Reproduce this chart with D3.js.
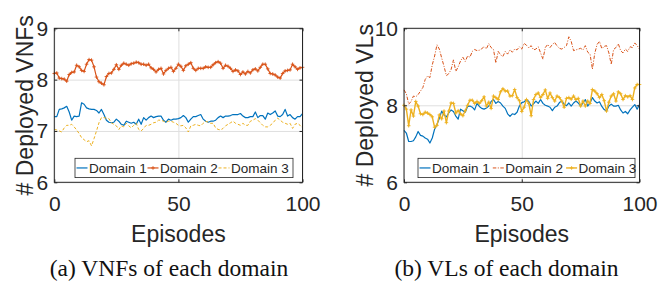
<!DOCTYPE html>
<html>
<head>
<meta charset="utf-8">
<script src="https://cdn.jsdelivr.net/npm/d3@7"></script>
<style>
  body { margin: 0; background: #fff; }
  svg { display: block; font-family: "Liberation Sans", Arial, sans-serif; }
  .tick text { font-size: 21px; fill: #262626; }
  .axis-title { font-size: 23px; fill: #262626; }
  .caption { font-family: "Liberation Serif", "Times New Roman", serif; font-size: 23.5px; fill: #111; }
  .legend-text { font-size: 13.5px; fill: #262626; }
</style>
</head>
<body>
<script>
const episodes = d3.range(0, 101);
const domainNames = ["Domain 1", "Domain 2", "Domain 3"];
const xTicks = [0, 50, 100];
const vnfTicks = [6, 7, 8, 9];
const vlTicks = [6, 8, 10];

// (a) deployed VNFs per domain
const vnfDomain1 = [7.28,7.28,7.42,7.43,7.45,7.48,7.37,7.21,7.29,7.28,
  7.29,7.55,7.52,7.45,7.43,7.42,7.42,7.40,7.35,7.42,
  7.32,7.21,7.17,7.16,7.17,7.23,7.19,7.13,7.11,7.19,
  7.17,7.15,7.17,7.13,7.23,7.13,7.26,7.21,7.26,7.29,
  7.26,7.28,7.29,7.29,7.21,7.17,7.23,7.21,7.23,7.23,
  7.24,7.26,7.30,7.26,7.17,7.23,7.28,7.28,7.30,7.32,
  7.23,7.19,7.17,7.19,7.19,7.21,7.26,7.29,7.26,7.29,
  7.29,7.30,7.32,7.32,7.32,7.34,7.29,7.26,7.26,7.28,
  7.28,7.37,7.26,7.30,7.30,7.23,7.35,7.32,7.35,7.39,
  7.29,7.28,7.32,7.42,7.29,7.32,7.26,7.23,7.28,7.28,
  7.34];
const vnfDomain2 = [8.12,8.13,8.03,8.02,8.01,7.97,8.10,8.14,8.15,8.28,
  8.25,8.18,8.16,8.30,8.39,8.38,8.25,8.05,7.96,7.93,
  7.90,8.06,8.12,8.13,8.20,8.29,8.20,8.28,8.32,8.30,
  8.28,8.31,8.32,8.34,8.33,8.30,8.30,8.28,8.30,8.23,
  8.20,8.15,8.20,8.22,8.11,8.18,8.22,8.24,8.16,8.22,
  8.30,8.26,8.18,8.27,8.30,8.33,8.22,8.18,8.22,8.22,
  8.22,8.25,8.24,8.24,8.29,8.33,8.35,8.32,8.22,8.28,
  8.26,8.22,8.16,8.19,8.17,8.10,8.15,8.11,8.16,8.13,
  8.19,8.21,8.17,8.24,8.30,8.30,8.21,8.12,8.11,8.09,
  8.05,8.03,8.12,8.17,8.18,8.19,8.30,8.25,8.20,8.23,
  8.24];
const vnfDomain3 = [7.03,7.02,7.00,6.98,7.06,7.11,7.11,7.13,7.08,7.02,
  6.95,6.87,6.83,6.79,6.81,6.71,6.85,7.00,7.16,7.26,
  7.26,7.25,7.24,7.16,7.13,7.10,7.03,7.10,7.08,7.15,
  7.10,7.06,7.11,7.15,7.03,7.00,7.05,7.11,7.11,7.13,
  7.16,7.17,7.21,7.21,7.19,7.17,7.19,7.19,7.17,7.15,
  7.11,7.10,7.11,7.06,6.98,7.10,7.11,7.13,7.11,7.10,
  7.15,7.19,7.17,7.15,7.15,7.06,7.03,7.02,7.05,7.10,
  7.13,7.16,7.19,7.15,7.13,7.11,7.15,7.11,7.11,7.19,
  7.21,7.24,7.21,7.16,7.11,7.08,7.08,7.11,7.15,7.21,
  7.25,7.21,7.17,7.15,7.13,7.15,7.05,7.13,7.15,7.11,
  7.06];

// (b) deployed VLs per domain
const vlDomain1 = [7.35,7.28,7.06,7.06,7.08,7.18,7.32,7.22,7.20,7.15,
  7.12,7.02,7.15,7.38,7.50,7.66,7.85,7.75,7.70,7.80,
  7.88,7.84,7.72,7.64,7.90,7.86,7.82,7.97,7.98,7.95,
  7.88,8.05,7.97,7.92,7.90,7.93,7.98,8.10,8.15,8.05,
  8.10,8.06,7.98,7.92,7.78,7.71,7.78,7.76,7.82,7.98,
  8.07,8.09,8.15,8.10,7.98,8.04,8.11,8.05,8.15,8.05,
  8.00,7.98,7.95,7.86,7.95,7.98,8.07,8.11,8.03,7.99,
  8.06,7.98,8.06,8.11,8.06,7.98,8.06,8.15,7.98,8.06,
  8.20,8.11,8.06,8.09,7.97,7.89,7.85,7.98,8.03,7.98,
  7.98,8.00,7.88,7.80,7.84,7.78,7.88,7.95,8.02,7.90,
  8.02];
const vlDomain2 = [8.40,8.30,8.03,8.10,8.24,8.22,8.28,8.37,8.46,8.67,
  8.76,8.72,9.05,9.28,9.57,9.46,9.23,9.01,8.77,8.82,
  8.93,9.18,8.88,9.00,9.15,9.25,9.14,9.28,9.25,9.40,
  9.45,9.42,9.43,9.47,9.52,9.47,9.60,9.50,9.45,9.10,
  9.40,9.31,9.27,9.40,9.33,9.44,9.38,9.46,9.44,9.52,
  9.46,9.61,9.56,9.49,9.55,9.44,9.46,9.52,9.36,9.20,
  9.50,9.58,9.50,9.58,9.63,9.54,9.48,9.46,9.50,9.55,
  9.78,9.66,9.42,9.44,9.46,9.48,9.44,9.55,9.38,9.33,
  8.94,9.35,9.58,9.66,9.47,9.53,9.55,9.36,9.06,9.45,
  9.50,9.60,9.42,9.36,9.46,9.40,9.52,9.50,9.62,9.55,
  9.46];
const vlDomain3 = [8.00,7.90,7.47,7.88,7.72,8.10,7.98,7.78,7.76,7.82,
  7.80,7.76,7.70,7.43,7.48,7.75,7.65,7.85,7.55,7.85,
  8.06,8.05,7.80,7.86,7.78,7.73,7.86,8.00,8.13,8.13,
  8.05,8.10,8.05,8.12,8.22,7.98,8.08,7.92,8.24,8.20,
  8.15,8.35,8.43,8.37,8.37,8.24,8.25,8.41,8.20,8.12,
  7.84,7.95,8.15,8.05,7.73,8.15,8.28,8.32,8.20,8.28,
  8.40,8.18,8.32,8.20,8.11,8.24,8.20,8.11,7.95,8.18,
  8.20,8.16,8.24,8.15,8.18,7.98,8.11,7.98,8.11,8.05,
  8.41,8.37,8.30,8.20,8.28,8.12,7.85,8.08,8.24,8.30,
  8.11,8.35,8.30,8.15,8.25,8.22,8.25,8.15,8.45,8.54,
  8.54];

document.addEventListener("DOMContentLoaded", () => {
  const canvass = { width: 659, height: 284 };
  const colors = ["#0072BD", "#D95319", "#EDB120"];
  const textColor = "#262626";
  const intFormat = d3.format("d");

  const panels = [
    {
      left: 54.3, right: 302.5, top: 28.3, bottom: 182.3,
      yDomain: [6, 9], yTicks: vnfTicks, yTitle: "# Deployed VNFs", yTitleX: 33,
      caption: "(a) VNFs of each domain", captionX: 169,
      legend: { x: 75, y: 158.3, w: 218, h: 19.3, step: 71 },
      series: [
        { values: vnfDomain1, width: 1.2, dash: null, marker: false },
        { values: vnfDomain2, width: 1.2, dash: null, marker: true },
        { values: vnfDomain3, width: 1, dash: "3,2", marker: false },
      ],
    },
    {
      left: 404, right: 639.5, top: 28.3, bottom: 182.3,
      yDomain: [6, 10], yTicks: vlTicks, yTitle: "# Deployed VLs", yTitleX: 373,
      caption: "(b) VLs of each domain", captionX: 506.5,
      legend: { x: 418, y: 158.3, w: 217, h: 19.3, step: 73.3 },
      series: [
        { values: vlDomain1, width: 1.2, dash: null, marker: false },
        { values: vlDomain2, width: 1, dash: "3.5,1.5,1,1.5", marker: false },
        { values: vlDomain3, width: 1.4, dash: null, marker: true },
      ],
    },
  ];

  const svg = d3
    .select("body")
    .append("svg")
    .attr("width", canvass.width)
    .attr("height", canvass.height);

  const drawPanel = (p) => {
    const xScale = d3.scaleLinear().domain([0, 100]).range([p.left, p.right]);
    const yScale = d3.scaleLinear().domain(p.yDomain).range([p.bottom, p.top]);
    const w = p.right - p.left;
    const h = p.bottom - p.top;
    const g = svg.append("g");

    // grid
    g.append("g")
      .attr("transform", `translate(0,${p.bottom})`)
      .call(d3.axisBottom(xScale).tickValues(xTicks).tickSize(-h).tickFormat(""))
      .call((a) => a.select(".domain").remove())
      .selectAll("line")
      .attr("stroke", "#dfdfdf")
      .attr("stroke-width", 1);
    g.append("g")
      .attr("transform", `translate(${p.left},0)`)
      .call(d3.axisLeft(yScale).tickValues(p.yTicks).tickSize(-w).tickFormat(""))
      .call((a) => a.select(".domain").remove())
      .selectAll("line")
      .attr("stroke", "#dfdfdf")
      .attr("stroke-width", 1);

    // lines
    p.series.forEach((s, i) => {
      const line = d3
        .line()
        .x((d, j) => xScale(episodes[j]))
        .y((d) => yScale(d));
      g.append("path")
        .datum(s.values)
        .attr("fill", "none")
        .attr("stroke", colors[i])
        .attr("stroke-width", s.width)
        .attr("stroke-linejoin", "round")
        .attr("stroke-dasharray", s.dash)
        .attr("d", line);
      if (s.marker) {
        g.append("g")
          .selectAll("path")
          .data(s.values)
          .enter()
          .append("path")
          .attr("transform", (d, j) => `translate(${xScale(episodes[j])},${yScale(d)})`)
          .attr("d", "M-1.8,0H1.8M0,-1.8V1.8")
          .attr("stroke", colors[i])
          .attr("stroke-width", 0.9);
      }
    });

    // axes (ticks point inward, on all four sides)
    const styleAxis = (a) => {
      a.select(".domain").remove();
      a.selectAll("line").attr("stroke", textColor);
      a.selectAll("text").attr("fill", textColor).style("font-family", "inherit");
    };
    g.append("g")
      .attr("transform", `translate(0,${p.bottom})`)
      .call(d3.axisBottom(xScale).tickValues(xTicks).tickFormat(intFormat).tickSize(-3).tickPadding(14))
      .call(styleAxis);
    g.append("g")
      .attr("transform", `translate(0,${p.top})`)
      .call(d3.axisTop(xScale).tickValues(xTicks).tickSize(-3).tickFormat(""))
      .call(styleAxis);
    g.append("g")
      .attr("transform", `translate(${p.left},0)`)
      .call(d3.axisLeft(yScale).tickValues(p.yTicks).tickFormat(intFormat).tickSize(-3).tickPadding(6))
      .call(styleAxis);
    g.append("g")
      .attr("transform", `translate(${p.right},0)`)
      .call(d3.axisRight(yScale).tickValues(p.yTicks).tickSize(-3).tickFormat(""))
      .call(styleAxis);

    g.append("rect")
      .attr("x", p.left)
      .attr("y", p.top)
      .attr("width", w)
      .attr("height", h)
      .attr("fill", "none")
      .attr("stroke", textColor)
      .attr("stroke-width", 1);

    // legend
    const lg = g.append("g").attr("transform", `translate(${p.legend.x},${p.legend.y})`);
    lg.append("rect")
      .attr("width", p.legend.w)
      .attr("height", p.legend.h)
      .attr("fill", "#fff")
      .attr("stroke", textColor)
      .attr("stroke-width", 0.8);
    domainNames.forEach((name, i) => {
      const s = p.series[i];
      const x0 = 1.5 + i * p.legend.step;
      const cy = p.legend.h / 2;
      lg.append("line")
        .attr("x1", x0)
        .attr("x2", x0 + 11)
        .attr("y1", cy)
        .attr("y2", cy)
        .attr("stroke", colors[i])
        .attr("stroke-width", s.width)
        .attr("stroke-dasharray", s.dash);
      if (s.marker) {
        lg.append("path")
          .attr("transform", `translate(${x0 + 5.5},${cy})`)
          .attr("d", "M-1.8,0H1.8M0,-1.8V1.8")
          .attr("stroke", colors[i])
          .attr("stroke-width", 0.9);
      }
      lg.append("text")
        .attr("class", "legend-text")
        .attr("x", x0 + 12.5)
        .attr("y", cy + 4.8)
        .text(name);
    });

    // titles
    svg.append("text")
      .attr("class", "axis-title")
      .attr("text-anchor", "middle")
      .attr("x", (p.left + p.right) / 2)
      .attr("y", 241.5)
      .text("Episodes");
    svg.append("text")
      .attr("class", "axis-title")
      .attr("text-anchor", "middle")
      .attr("transform", `translate(${p.yTitleX},${(p.top + p.bottom) / 2}) rotate(-90)`)
      .text(p.yTitle);
    svg.append("text")
      .attr("class", "caption")
      .attr("text-anchor", "middle")
      .attr("x", p.captionX)
      .attr("y", 276)
      .text(p.caption);
  };

  panels.forEach(drawPanel);
});
</script>
</body>
</html>
